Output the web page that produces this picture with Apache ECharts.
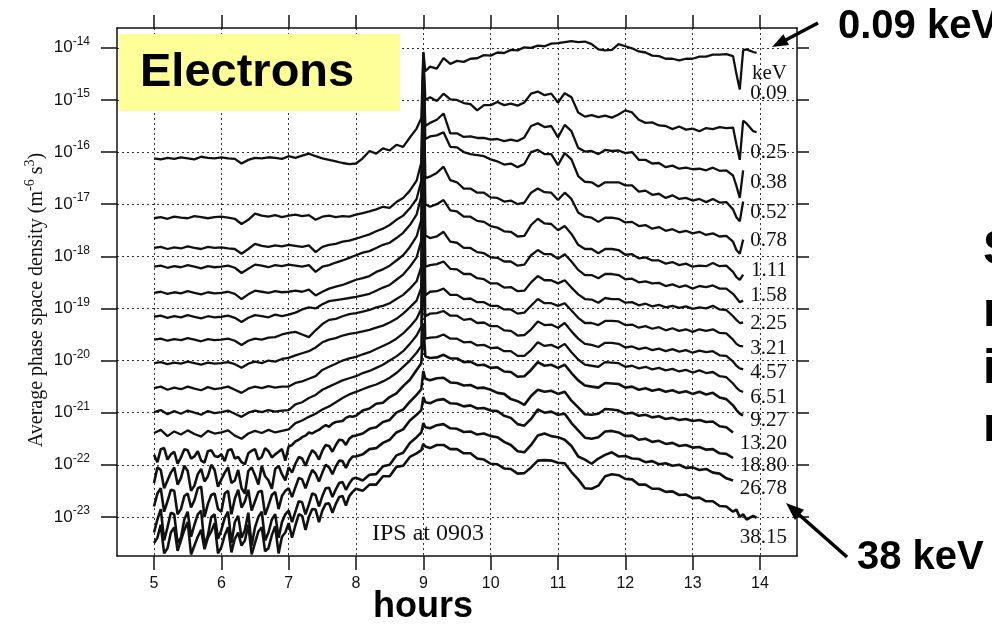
<!DOCTYPE html>
<html><head><meta charset="utf-8">
<script src="https://cdn.jsdelivr.net/npm/echarts@6/dist/echarts.min.js"></script>
<style>html,body{margin:0;padding:0;background:#fff}#c{width:992px;height:626px}</style>
</head><body><div id="c"></div>
<script>
// time axis (hours, UT)
const hours = [
5.0,5.1,5.2,5.3,5.4,5.5,5.6,5.7,5.8,5.9,
6.0,6.1,6.2,6.3,6.4,6.5,6.6,6.7,6.8,6.9,
7.0,7.1,7.2,7.3,7.4,7.5,7.6,7.7,7.8,7.9,
8.0,8.1,8.2,8.3,8.4,8.5,8.6,8.7,8.8,8.9,
8.97,9.0,9.03,
9.1,9.2,9.3,9.4,9.5,9.6,9.7,9.8,9.9,10.0,
10.1,10.2,10.3,10.4,10.5,10.6,10.7,10.8,10.9,11.0,
11.1,11.2,11.3,11.4,11.5,11.6,11.7,11.8,11.9,12.0,
12.1,12.2,12.3,12.4,12.5,12.6,12.7,12.8,12.9,13.0,
13.1,13.2,13.3,13.4,13.5,13.6,
13.65,13.7,13.75,13.8,13.9,13.95];
// extra in-between times read for the noisy high-energy channels
const hoursMid = [5.05,5.15,5.25,5.35,5.45,5.55,5.65,5.75,5.85,5.95,
6.05,6.15,6.25,6.35,6.45,6.55,6.65,6.75,6.85,6.95,
7.05,7.15,7.25,7.35,7.45,7.55,7.65,7.75,7.85,7.95];

// log10 of average phase space density (m^-6 s^3), one array per energy channel
const e009 = [
-16.12,-16.14,-16.11,-16.13,-16.10,-16.12,-16.14,-16.09,-16.11,-16.12,
-16.10,-16.12,-16.13,-16.22,-16.15,-16.11,-16.12,-16.10,-16.11,-16.13,
-16.08,-16.11,-16.07,-16.03,-16.08,-16.12,-16.15,-16.18,-16.21,-16.23,
-16.22,-16.12,-15.98,-16.03,-15.93,-15.97,-15.86,-15.90,-15.72,-15.55,
-15.35,-14.08,-14.45,
-14.36,-14.40,-14.20,-14.31,-14.25,-14.27,-14.21,-14.20,-14.14,-14.15,
-14.09,-14.10,-14.04,-14.05,-13.99,-14.00,-13.96,-13.97,-13.92,-13.91,
-13.89,-13.87,-13.89,-13.88,-13.93,-14.03,-14.05,-14.04,-13.93,-13.97,
-14.01,-14.07,-14.09,-14.15,-14.16,-14.21,-14.21,-14.24,-14.21,-14.21,
-14.17,-14.17,-14.13,-14.13,-14.12,-14.16,
-14.50,-14.80,-14.05,-14.03,-14.08,-14.10];
const e025 = [
-17.27,-17.25,-17.28,-17.24,-17.26,-17.27,-17.23,-17.25,-17.27,-17.25,
-17.24,-17.26,-17.28,-17.38,-17.30,-17.18,-17.22,-17.24,-17.21,-17.25,
-17.22,-17.20,-17.23,-17.21,-17.30,-17.24,-17.22,-17.25,-17.23,-17.24,
-17.20,-17.17,-17.14,-17.10,-17.05,-17.07,-16.96,-16.88,-16.74,-16.55,
-16.20,-14.10,-15.00,
-14.95,-15.02,-14.88,-14.99,-15.00,-15.06,-15.08,-15.20,-15.10,-15.10,
-15.04,-15.10,-15.07,-15.11,-15.05,-14.88,-14.84,-14.91,-14.88,-15.05,
-14.87,-14.95,-15.24,-15.32,-15.29,-15.33,-15.30,-15.34,-15.28,-15.20,
-15.24,-15.38,-15.44,-15.43,-15.49,-15.50,-15.56,-15.51,-15.57,-15.55,
-15.60,-15.54,-15.56,-15.52,-15.54,-15.53,
-15.85,-16.15,-15.40,-15.45,-15.60,-15.62];
const e038 = [
-17.84,-17.82,-17.86,-17.83,-17.85,-17.81,-17.84,-17.86,-17.82,-17.84,
-17.83,-17.85,-17.86,-17.95,-17.86,-17.76,-17.80,-17.82,-17.79,-17.81,
-17.78,-17.80,-17.82,-17.79,-17.92,-17.82,-17.78,-17.76,-17.72,-17.70,
-17.66,-17.62,-17.58,-17.52,-17.47,-17.40,-17.30,-17.22,-17.08,-16.90,
-16.55,-14.15,-15.50,
-15.44,-15.38,-15.26,-15.64,-15.64,-15.71,-15.70,-15.73,-15.73,-15.76,
-15.75,-15.79,-15.76,-15.79,-15.72,-15.50,-15.45,-15.52,-15.50,-15.72,
-15.48,-15.60,-15.92,-15.99,-15.98,-16.04,-15.96,-15.98,-15.97,-16.02,
-16.00,-16.15,-16.15,-16.22,-16.21,-16.29,-16.26,-16.32,-16.30,-16.33,
-16.32,-16.35,-16.30,-16.36,-16.35,-16.45,
-16.65,-16.88,-16.35,null,null,null];
const e052 = [
-18.20,-18.18,-18.22,-18.19,-18.21,-18.17,-18.20,-18.23,-18.19,-18.21,
-18.20,-18.18,-18.22,-18.32,-18.24,-18.16,-18.18,-18.21,-18.17,-18.19,
-18.16,-18.18,-18.20,-18.17,-18.30,-18.20,-18.17,-18.12,-18.08,-18.03,
-17.98,-17.93,-17.90,-17.84,-17.78,-17.74,-17.65,-17.55,-17.40,-17.20,
-16.85,-14.20,-15.75,
-15.70,-15.68,-15.62,-15.90,-15.91,-16.00,-16.04,-16.06,-16.08,-16.14,
-16.18,-16.24,-16.22,-16.29,-16.23,-16.00,-15.96,-16.04,-16.04,-16.25,
-16.02,-16.14,-16.46,-16.57,-16.58,-16.66,-16.58,-16.58,-16.58,-16.64,
-16.64,-16.76,-16.74,-16.82,-16.80,-16.88,-16.83,-16.90,-16.88,-16.93,
-16.90,-16.96,-16.90,-16.97,-16.96,-17.10,
-17.25,-17.33,-16.95,null,null,null];
const e078 = [
-18.70,-18.68,-18.72,-18.69,-18.71,-18.67,-18.70,-18.73,-18.69,-18.71,
-18.70,-18.68,-18.72,-18.82,-18.73,-18.66,-18.68,-18.70,-18.67,-18.69,
-18.68,-18.66,-18.68,-18.64,-18.75,-18.68,-18.62,-18.58,-18.55,-18.50,
-18.45,-18.42,-18.38,-18.30,-18.25,-18.18,-18.08,-17.98,-17.82,-17.62,
-17.30,-14.30,-16.50,
-16.47,-16.40,-16.28,-16.54,-16.58,-16.70,-16.70,-16.78,-16.78,-16.87,
-16.88,-16.95,-16.93,-17.00,-16.97,-16.78,-16.70,-16.77,-16.78,-16.92,
-16.78,-16.90,-17.16,-17.24,-17.26,-17.34,-17.26,-17.26,-17.28,-17.35,
-17.34,-17.42,-17.40,-17.47,-17.44,-17.51,-17.48,-17.54,-17.51,-17.56,
-17.53,-17.59,-17.56,-17.62,-17.61,-17.72,
-17.88,-17.95,-17.68,null,null,null];
const e111 = [
-19.16,-19.14,-19.18,-19.15,-19.17,-19.13,-19.16,-19.19,-19.15,-19.17,
-19.16,-19.14,-19.18,-19.26,-19.18,-19.13,-19.15,-19.17,-19.12,-19.15,
-19.12,-19.08,-19.02,-18.98,-19.00,-18.92,-18.86,-18.84,-18.82,-18.80,
-18.78,-18.75,-18.72,-18.66,-18.60,-18.55,-18.45,-18.35,-18.20,-18.02,
-17.70,-14.40,-17.00,
-17.05,-17.00,-16.92,-17.12,-17.14,-17.24,-17.24,-17.32,-17.34,-17.42,
-17.45,-17.52,-17.53,-17.62,-17.61,-17.40,-17.28,-17.37,-17.38,-17.50,
-17.42,-17.57,-17.78,-17.86,-17.86,-17.94,-17.86,-17.86,-17.88,-17.97,
-17.96,-18.04,-18.02,-18.08,-18.08,-18.14,-18.11,-18.17,-18.14,-18.20,
-18.18,-18.19,-18.13,-18.19,-18.18,-18.30,
-18.40,-18.45,-18.35,null,null,null];
const e158 = [
-19.60,-19.58,-19.62,-19.59,-19.61,-19.57,-19.60,-19.63,-19.59,-19.61,
-19.60,-19.58,-19.62,-19.70,-19.62,-19.58,-19.60,-19.56,-19.55,-19.50,
-19.47,-19.45,-19.50,-19.55,-19.42,-19.30,-19.22,-19.20,-19.15,-19.11,
-19.09,-19.06,-19.03,-18.98,-18.95,-18.90,-18.82,-18.74,-18.62,-18.48,
-18.20,-14.60,-17.60,
-17.65,-17.62,-17.53,-17.72,-17.74,-17.84,-17.84,-17.92,-17.94,-18.02,
-18.03,-18.10,-18.10,-18.18,-18.16,-17.98,-17.88,-17.96,-17.96,-18.05,
-17.96,-18.10,-18.26,-18.36,-18.36,-18.42,-18.34,-18.34,-18.36,-18.44,
-18.43,-18.50,-18.48,-18.52,-18.51,-18.57,-18.54,-18.59,-18.56,-18.62,
-18.57,-18.59,-18.56,-18.62,-18.62,-18.72,
-18.80,-18.88,-18.85,null,null,null];
const e225 = [
-20.05,-20.03,-20.07,-20.04,-20.06,-20.02,-20.05,-20.08,-20.04,-20.06,
-20.05,-20.03,-20.07,-20.14,-20.06,-20.02,-20.05,-20.00,-20.02,-19.97,
-19.95,-19.90,-19.86,-19.82,-19.75,-19.65,-19.60,-19.57,-19.52,-19.49,
-19.47,-19.44,-19.41,-19.37,-19.33,-19.27,-19.20,-19.10,-18.98,-18.85,
-18.60,-15.00,-18.20,
-18.17,-18.15,-18.10,-18.24,-18.25,-18.34,-18.34,-18.42,-18.44,-18.52,
-18.52,-18.60,-18.59,-18.67,-18.66,-18.50,-18.38,-18.46,-18.46,-18.52,
-18.46,-18.60,-18.73,-18.82,-18.83,-18.89,-18.80,-18.82,-18.82,-18.89,
-18.88,-18.94,-18.91,-18.96,-18.93,-18.98,-18.95,-18.99,-18.96,-19.01,
-18.98,-19.00,-18.95,-19.02,-19.03,-19.15,
-19.22,-19.28,-19.27,null,null,null];
const e321 = [
-20.53,-20.50,-20.56,-20.52,-20.55,-20.50,-20.54,-20.57,-20.51,-20.55,
-20.53,-20.50,-20.56,-20.62,-20.54,-20.50,-20.53,-20.49,-20.52,-20.50,
-20.50,-20.43,-20.40,-20.35,-20.30,-20.18,-20.12,-20.06,-20.00,-19.96,
-19.93,-19.88,-19.84,-19.78,-19.72,-19.66,-19.58,-19.48,-19.35,-19.20,
-19.00,-15.50,-18.75,
-18.68,-18.67,-18.62,-18.74,-18.74,-18.82,-18.81,-18.88,-18.88,-18.95,
-18.95,-19.02,-19.02,-19.10,-19.08,-18.95,-18.82,-18.90,-18.90,-18.95,
-18.90,-19.04,-19.18,-19.28,-19.28,-19.32,-19.24,-19.24,-19.25,-19.32,
-19.31,-19.37,-19.34,-19.39,-19.36,-19.42,-19.38,-19.43,-19.40,-19.45,
-19.40,-19.43,-19.40,-19.47,-19.48,-19.60,
-19.68,-19.72,-19.73,null,null,null];
const e457 = [
-20.99,-20.95,-21.03,-20.97,-21.02,-20.96,-21.00,-21.04,-20.97,-21.01,
-20.99,-20.96,-21.02,-21.08,-21.00,-20.96,-20.99,-20.95,-20.98,-20.96,
-20.95,-20.84,-20.80,-20.72,-20.66,-20.56,-20.50,-20.44,-20.38,-20.34,
-20.30,-20.24,-20.20,-20.14,-20.08,-20.00,-19.92,-19.82,-19.68,-19.52,
-19.35,-16.50,-19.15,
-19.10,-19.09,-19.05,-19.14,-19.14,-19.22,-19.20,-19.28,-19.27,-19.34,
-19.34,-19.42,-19.43,-19.52,-19.51,-19.40,-19.25,-19.32,-19.31,-19.37,
-19.28,-19.44,-19.58,-19.68,-19.70,-19.74,-19.66,-19.66,-19.68,-19.75,
-19.73,-19.78,-19.75,-19.80,-19.77,-19.82,-19.78,-19.83,-19.80,-19.85,
-19.81,-19.84,-19.82,-19.90,-19.91,-20.02,
-20.10,-20.15,-20.17,null,null,null];
const e651 = [
-21.39,-21.33,-21.45,-21.36,-21.42,-21.34,-21.41,-21.46,-21.35,-21.40,
-21.38,-21.34,-21.44,-21.50,-21.40,-21.35,-21.39,-21.33,-21.38,-21.35,
-21.32,-21.20,-21.15,-21.08,-21.02,-20.94,-20.88,-20.80,-20.72,-20.65,
-20.60,-20.55,-20.50,-20.46,-20.40,-20.33,-20.24,-20.12,-20.00,-19.85,
-19.72,-18.00,-19.58,
-19.56,-19.55,-19.50,-19.58,-19.58,-19.65,-19.64,-19.71,-19.70,-19.76,
-19.75,-19.82,-19.82,-19.91,-19.91,-19.80,-19.65,-19.72,-19.70,-19.76,
-19.68,-19.84,-19.98,-20.08,-20.10,-20.12,-20.03,-20.04,-20.05,-20.12,
-20.10,-20.15,-20.12,-20.17,-20.14,-20.19,-20.16,-20.21,-20.18,-20.23,
-20.19,-20.24,-20.22,-20.30,-20.32,-20.44,
-20.52,-20.58,-20.60,null,null,null];
const e927 = [
-21.81,-21.70,-21.90,-21.75,-21.86,-21.72,-21.84,-21.92,-21.74,-21.83,
-21.80,-21.72,-21.88,-21.95,-21.78,-21.70,-21.85,-21.74,-21.80,-21.70,
-21.65,-21.55,-21.47,-21.38,-21.36,-21.28,-21.27,-21.18,-21.16,-21.07,
-21.06,-20.96,-20.92,-20.83,-20.81,-20.70,-20.63,-20.49,-20.37,-20.18,
-20.05,-19.30,-19.92,
-19.95,-19.94,-19.89,-19.96,-19.96,-20.03,-20.02,-20.09,-20.08,-20.14,
-20.13,-20.21,-20.22,-20.31,-20.30,-20.18,-20.03,-20.10,-20.08,-20.14,
-20.08,-20.24,-20.38,-20.48,-20.50,-20.52,-20.43,-20.44,-20.45,-20.52,
-20.50,-20.56,-20.53,-20.58,-20.55,-20.60,-20.57,-20.62,-20.59,-20.64,
-20.60,-20.65,-20.62,-20.71,-20.74,-20.86,
-20.95,-21.02,-21.05,null,null,null];
const e1320 = [
-22.35,-22.10,-22.30,-22.05,-22.25,-22.12,-22.40,-22.08,-22.22,-22.10,
-22.28,-22.05,-22.30,-22.45,-22.12,-22.20,-22.02,-22.30,-22.08,-22.18,
-22.05,-21.98,-21.88,-21.85,-21.78,-21.73,-21.64,-21.62,-21.53,-21.50,
-21.44,-21.40,-21.31,-21.28,-21.18,-21.14,-21.00,-20.94,-20.79,-20.66,
-20.55,-20.20,-20.35,
-20.38,-20.34,-20.33,-20.42,-20.43,-20.48,-20.47,-20.53,-20.52,-20.56,
-20.62,-20.64,-20.74,-20.78,-20.85,-20.68,-20.56,-20.60,-20.58,-20.64,
-20.60,-20.77,-20.90,-21.03,-21.04,-21.02,-20.93,-20.94,-20.96,-21.02,
-21.00,-21.06,-21.04,-21.09,-21.07,-21.12,-21.10,-21.14,-21.12,-21.16,
-21.14,-21.18,-21.17,-21.26,-21.28,-21.38,
null,null,null,null,null,null];
const e1880 = [
-22.80,-22.45,-22.70,-22.50,-22.85,-22.55,-22.68,-22.42,-22.75,-22.55,
-22.90,-22.50,-22.65,-22.82,-22.48,-22.70,-22.50,-22.78,-22.52,-22.60,
-22.45,-22.43,-22.28,-22.26,-22.17,-22.15,-22.05,-22.03,-21.93,-21.92,
-21.84,-21.80,-21.70,-21.68,-21.58,-21.52,-21.38,-21.32,-21.15,-21.04,
-20.95,-20.70,-20.80,
-20.82,-20.76,-20.74,-20.82,-20.83,-20.88,-20.86,-20.92,-20.91,-20.96,
-20.97,-21.06,-21.10,-21.22,-21.25,-21.12,-20.94,-21.00,-20.98,-21.04,
-21.02,-21.20,-21.34,-21.48,-21.50,-21.47,-21.36,-21.35,-21.38,-21.45,
-21.44,-21.52,-21.50,-21.56,-21.54,-21.60,-21.58,-21.64,-21.62,-21.67,
-21.66,-21.71,-21.70,-21.78,-21.79,-21.87,
null,null,null,null,null,null];
const e2678 = [
-23.30,-22.85,-23.20,-22.95,-23.40,-22.90,-23.15,-22.88,-23.35,-22.95,
-23.25,-22.90,-23.10,-23.40,-22.92,-23.20,-22.90,-23.30,-22.95,-23.10,
-22.88,-22.90,-22.72,-22.76,-22.58,-22.60,-22.44,-22.47,-22.33,-22.36,
-22.25,-22.30,-22.19,-22.18,-22.03,-22.00,-21.82,-21.77,-21.58,-21.47,
-21.38,-21.20,-21.28,
-21.30,-21.24,-21.22,-21.30,-21.31,-21.37,-21.36,-21.42,-21.40,-21.45,
-21.47,-21.56,-21.62,-21.74,-21.76,-21.62,-21.44,-21.40,-21.45,-21.47,
-21.52,-21.64,-21.84,-21.90,-21.98,-21.88,-21.81,-21.76,-21.84,-21.83,
-21.88,-21.89,-21.95,-21.93,-21.99,-21.97,-22.02,-22.00,-22.06,-22.05,
-22.10,-22.08,-22.15,-22.17,-22.26,-22.30,
null,null,null,null,null,null];
const e3815 = [
-23.50,-23.15,-23.60,-23.20,-23.45,-23.10,-23.55,-23.25,-23.40,-23.12,
-23.58,-23.20,-23.42,-23.55,-23.15,-23.50,-23.20,-23.60,-23.18,-23.38,
-23.12,-23.16,-22.98,-23.00,-22.86,-22.88,-22.74,-22.75,-22.60,-22.60,
-22.46,-22.50,-22.38,-22.38,-22.22,-22.22,-22.04,-22.02,-21.85,-21.78,
-21.72,-21.60,-21.65,
-21.68,-21.62,-21.62,-21.70,-21.70,-21.78,-21.78,-21.88,-21.90,-21.98,
-21.99,-22.07,-22.08,-22.17,-22.16,-22.05,-21.92,-21.91,-21.92,-21.96,
-21.97,-22.14,-22.28,-22.45,-22.46,-22.40,-22.22,-22.18,-22.20,-22.27,
-22.28,-22.38,-22.38,-22.46,-22.46,-22.52,-22.51,-22.58,-22.57,-22.64,
-22.63,-22.70,-22.70,-22.79,-22.80,-22.90,
-22.86,-23.00,-22.95,-23.05,-22.98,-23.02];

// in-between readings (at hoursMid) for the five noisiest channels
const e927mid  = [-21.95,-21.68,-21.80,-21.98,-21.70,-21.88,-21.74,-21.96,-21.72,-21.85,-21.93,-21.70,-21.85,-21.99,-21.73,-21.90,-21.68,-21.86,-21.75,-21.92,-21.62,-21.52,-21.44,-21.40,-21.33,-21.24,-21.21,-21.17,-21.10,-21.08];
const e1320mid = [-22.05,-22.45,-22.15,-22.38,-22.02,-22.50,-22.18,-22.32,-22.00,-22.42,-22.15,-22.35,-22.10,-22.55,-22.05,-22.38,-22.22,-22.46,-22.02,-22.30,-22.15,-21.85,-22.02,-21.72,-21.90,-21.62,-21.75,-21.52,-21.62,-21.45];
const e1880mid = [-22.55,-22.90,-22.48,-22.95,-22.60,-22.82,-22.45,-23.00,-22.58,-22.85,-22.55,-22.95,-22.48,-22.70,-22.88,-22.52,-22.96,-22.58,-22.85,-22.50,-22.62,-22.25,-22.45,-22.10,-22.32,-22.00,-22.18,-21.92,-22.06,-21.84];
const e2678mid = [-23.05,-23.45,-22.92,-23.50,-23.05,-23.38,-22.95,-23.55,-23.00,-23.42,-23.02,-23.50,-22.98,-23.25,-23.55,-23.00,-23.45,-23.05,-23.40,-22.95,-23.10,-22.70,-22.95,-22.55,-22.80,-22.45,-22.62,-22.35,-22.48,-22.27];
const e3815mid = [-23.40,-23.70,-23.30,-23.65,-23.25,-23.72,-23.38,-23.62,-23.28,-23.70,-23.35,-23.68,-23.30,-23.45,-23.72,-23.28,-23.66,-23.35,-23.70,-23.30,-23.40,-22.95,-23.25,-22.85,-23.10,-22.75,-22.92,-22.62,-22.78,-22.52];

const channels = [e009,e025,e038,e052,e078,e111,e158,e225,e321,e457,e651,e927,e1320,e1880,e2678,e3815];
const channelsMid = [null,null,null,null,null,null,null,null,null,null,null,e927mid,e1320mid,e1880mid,e2678mid,e3815mid];
const energyLabels = ['0.09','0.25','0.38','0.52','0.78','1.11','1.58','2.25','3.21','4.57','6.51','9.27','13.20','18.80','26.78','38.15'];
const xTicks = [5,6,7,8,9,10,11,12,13,14];
const yTicks = [-23,-22,-21,-20,-19,-18,-17,-16,-15,-14];

// pixel placement of the in-plot energy labels (annotation text only)
const labelY = [93,152,182,212,240,270,295,323,348,372,397,420,443,465,488,537];

const chart = echarts.init(document.getElementById('c'), null, {renderer:'canvas'});
const serif = "'Liberation Serif','Times New Roman',serif";
const sans = "'Liberation Sans',Arial,Helvetica,sans-serif";
const gridLine = {show:true, lineStyle:{color:'#333', width:1, type:[2,3]}};
const axisLineStyle = {show:true, lineStyle:{color:'#111', width:1.5}};

const series = channels.map((vals, k) => {
  let pts = hours.map((h,i) => [h, vals[i]]);
  const mid = channelsMid[k];
  if (mid) {
    pts = pts.concat(hoursMid.map((h,i) => [h, mid[i]]));
    pts.sort((a,b) => a[0] - b[0]);
  }
  return {
    type:'line', name: energyLabels[k] + ' keV',
    xAxisIndex:0, yAxisIndex:0,
    data: pts,
    showSymbol:false, symbol:'none', connectNulls:false,
    lineStyle:{color:'#111', width: k >= 11 ? 2.6 : 2.3},
    animation:false, z:3
  };
});

const graphics = [
  {type:'rect', shape:{x:119,y:34,width:281,height:77}, style:{fill:'#ffff99'}, z:20},
  {type:'text', x:140, y:73, style:{text:'Electrons', font:'bold 47px '+sans, fill:'#000', verticalAlign:'middle'}, z:21},
  {type:'text', x:423, y:607, style:{text:'hours', font:'bold 36px '+sans, fill:'#000', align:'center', verticalAlign:'middle'}, z:21},
  {type:'text', x:838, y:27, style:{text:'0.09 keV', font:'bold 40px '+sans, fill:'#000', verticalAlign:'middle'}, z:21},
  {type:'text', x:857, y:558, style:{text:'38 keV', font:'bold 40px '+sans, fill:'#000', verticalAlign:'middle'}, z:21},
  {type:'text', x:983, y:251, style:{text:'S', font:'bold 48px '+sans, fill:'#000', verticalAlign:'middle'}, z:21},
  {type:'text', x:983, y:313, style:{text:'r', font:'bold 48px '+sans, fill:'#000', verticalAlign:'middle'}, z:21},
  {type:'text', x:983, y:370, style:{text:'i', font:'bold 48px '+sans, fill:'#000', verticalAlign:'middle'}, z:21},
  {type:'text', x:983, y:428, style:{text:'r', font:'bold 48px '+sans, fill:'#000', verticalAlign:'middle'}, z:21},
  {type:'line', shape:{x1:818,y1:23,x2:782,y2:42}, style:{stroke:'#000', lineWidth:3.5}, z:21},
  {type:'polygon', shape:{points:[[772,47],[789,45],[783.4,34.3]]}, style:{fill:'#000'}, z:21},
  {type:'line', shape:{x1:847,y1:557,x2:796,y2:512}, style:{stroke:'#000', lineWidth:3.5}, z:21},
  {type:'polygon', shape:{points:[[786,503],[804.1,509.7],[794.9,520.1]]}, style:{fill:'#000'}, z:21},
  {type:'text', x:372, y:534, style:{text:'IPS at 0903', font:'24px '+serif, fill:'#111', verticalAlign:'middle'}, z:21},
  {type:'text', x:787, y:73, style:{text:'keV', font:'21px '+serif, fill:'#111', align:'right', verticalAlign:'middle'}, z:21},
  {type:'text', x:37, y:300, rotation:Math.PI/2,
    style:{text:'{t|Average phase space density (m}{s|-6}{t| s}{s|3}{t|)}', align:'center', verticalAlign:'middle', fill:'#111',
      rich:{t:{font:'20px '+serif, lineHeight:28, fill:'#111'}, s:{font:'14px '+serif, lineHeight:14, verticalAlign:'top', fill:'#111'}}}, z:21}
];
energyLabels.forEach((lab, k) => {
  graphics.push({type:'text', x:787, y:labelY[k], style:{text:lab, font:'21px '+serif, fill:'#111', align:'right', verticalAlign:'middle'}, z:21});
});

chart.setOption({
  animation:false,
  backgroundColor:'#fff',
  grid:{left:117, top:28, width:680, height:528, containLabel:false},
  xAxis:[
    {type:'value', position:'bottom', min:4.45, max:14.55,
     axisLine:axisLineStyle,
     axisTick:{show:true, inside:false, length:14, customValues:xTicks, lineStyle:{color:'#111', width:1.5}},
     axisLabel:{show:true, customValues:xTicks, margin:20, fontSize:16, fontFamily:sans, color:'#111'},
     splitLine:gridLine},
    {type:'value', position:'top', min:4.45, max:14.55,
     axisLine:axisLineStyle,
     axisTick:{show:true, inside:false, length:13, customValues:xTicks, lineStyle:{color:'#111', width:1.5}},
     axisLabel:{show:false}, splitLine:{show:false}}
  ],
  yAxis:[
    {type:'value', position:'left', min:-23.75, max:-13.62,
     axisLine:axisLineStyle,
     axisTick:{show:true, inside:false, length:16, customValues:yTicks, lineStyle:{color:'#111', width:1.5}},
     axisLabel:{show:true, customValues:yTicks, margin:27, color:'#111',
       formatter: v => '{b|10}{s|' + v + '}',
       rich:{b:{fontSize:17, fontFamily:sans, lineHeight:24, color:'#111'}, s:{fontSize:12, fontFamily:sans, lineHeight:12, verticalAlign:'top', color:'#111'}}},
     splitLine:gridLine},
    {type:'value', position:'right', min:-23.75, max:-13.62,
     axisLine:axisLineStyle,
     axisTick:{show:true, inside:false, length:12, customValues:yTicks, lineStyle:{color:'#111', width:1.5}},
     axisLabel:{show:false}, splitLine:{show:false}}
  ],
  series: series,
  graphic: graphics
});
</script></body></html>
